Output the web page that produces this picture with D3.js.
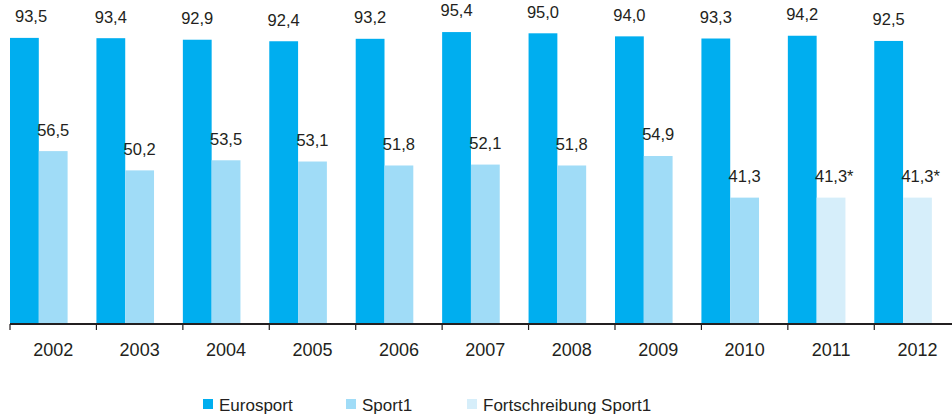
<!DOCTYPE html>
<html><head><meta charset="utf-8">
<script src="https://cdn.jsdelivr.net/npm/d3@7/dist/d3.min.js"></script>
<style>
body{margin:0;background:#fff;}
text{font-family:"Liberation Sans",Arial,sans-serif;fill:#231f20;}
</style></head>
<body><svg id="c" width="952" height="416"></svg>
<script>
const years = ["2002","2003","2004","2005","2006","2007","2008","2009","2010","2011","2012"];
const eurosport = [93.5,93.4,92.9,92.4,93.2,95.4,95.0,94.0,93.3,94.2,92.5];
const sport1 = [56.5,50.2,53.5,53.1,51.8,52.1,51.8,54.9,41.3,41.3,41.3];
const sport1Projected = [false,false,false,false,false,false,false,false,false,true,true];
const seriesNames = ["Eurosport","Sport1","Fortschreibung Sport1"];
const colors = {eu:"#00aeef", s1:"#a0dcf7", fs:"#d6eefa"};

const svg = d3.select("#c");
const x = d3.scaleBand().domain(years).range([10, 960.7]).paddingInner(0).paddingOuter(0);
const y = d3.scaleLinear().domain([0,100]).range([324,18]);
const bw = 28.8;
const fmt = v => d3.format(".1f")(v).replace(".", ",");
const vfs = 16.5;

// bars
const g = svg.append("g");
g.selectAll("rect.eu").data(years).join("rect")
  .attr("x", d=>x(d)).attr("y", (d,i)=>y(eurosport[i]))
  .attr("width", bw).attr("height", (d,i)=>y(0)-y(eurosport[i]))
  .attr("fill", colors.eu);
g.selectAll("rect.s1").data(years).join("rect")
  .attr("x", d=>x(d)+bw).attr("y", (d,i)=>y(sport1[i]))
  .attr("width", bw).attr("height", (d,i)=>y(0)-y(sport1[i]))
  .attr("fill", (d,i)=>sport1Projected[i]?colors.fs:colors.s1);

// value labels
years.forEach((d,i)=>{
  const t = g.append("text")
    .attr("x", x(d)+bw/2).attr("y", y(eurosport[i])-15.6)
    .attr("text-anchor","middle").attr("font-size",vfs)
    .text(fmt(eurosport[i]));
  const w0 = t.node().getComputedTextLength();
  if (x(d)+bw/2-w0/2 < 15) t.attr("text-anchor","start").attr("x",15);
  const s = g.append("text")
    .attr("x", x(d)+bw*1.5).attr("y", y(sport1[i])-15.6)
    .attr("text-anchor","middle").attr("font-size",vfs)
    .text(fmt(sport1[i]));
  if (sport1Projected[i]) {
    const w = s.node().getComputedTextLength();
    g.append("text").attr("x", x(d)+bw*1.5+w/2).attr("y", y(sport1[i])-15.6)
      .attr("font-size",vfs).text("*");
  }
});

// axis
const ax = svg.append("g").attr("transform","translate(0,324)");
ax.append("line").attr("x1",10).attr("x2",952).attr("y1",0).attr("y2",0)
  .attr("stroke","#231f20").attr("stroke-width",2);
ax.selectAll("line.tk").data(years).join("line")
  .attr("x1",d=>x(d)).attr("x2",d=>x(d)).attr("y1",0).attr("y2",6)
  .attr("stroke","#231f20").attr("stroke-width",1.2);
ax.selectAll("text").data(years).join("text")
  .attr("x",d=>x(d)+x.bandwidth()/2).attr("y",32)
  .attr("text-anchor","middle").attr("font-size",18)
  .text(d=>d);

// legend
const legX = [203, 346, 467];
const lg = svg.append("g");
seriesNames.forEach((n,i)=>{
  lg.append("rect").attr("x",legX[i]).attr("y",399).attr("width",10).attr("height",10)
    .attr("fill",[colors.eu,colors.s1,colors.fs][i]);
  lg.append("text").attr("x",legX[i]+16).attr("y",410.5).attr("font-size",17).text(n);
});
</script></body></html>
